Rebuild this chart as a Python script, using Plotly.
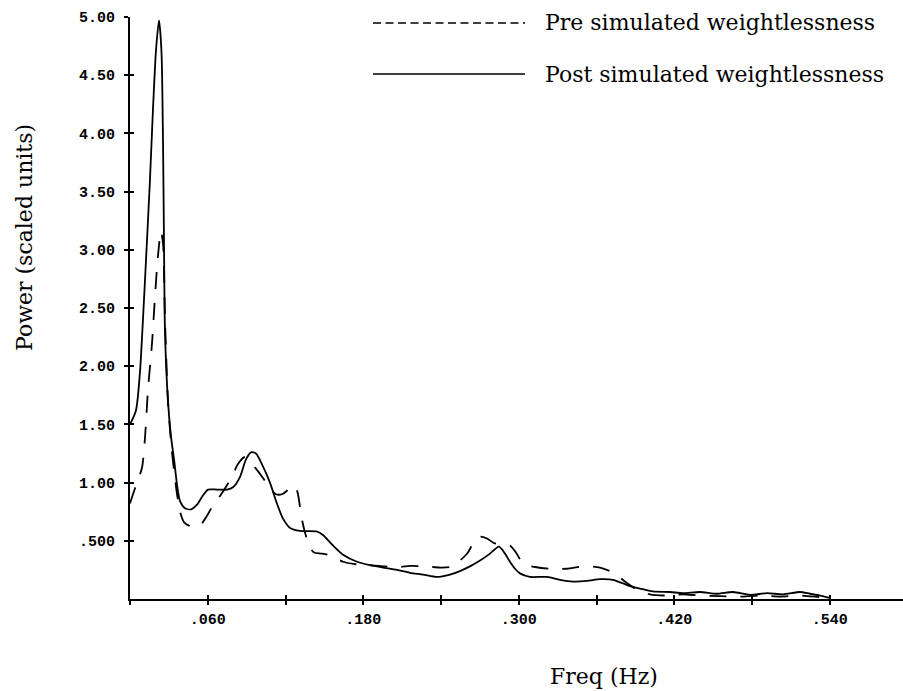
import plotly.graph_objects as go

# Power spectra, frequency in Hz, power in scaled units
post_freq = [0.0000, 0.0046, 0.0077, 0.0100, 0.0123, 0.0154, 0.0177, 0.0201, 0.0224, 0.0243,
             0.0255, 0.0262, 0.0270, 0.0293, 0.0316, 0.0340, 0.0363, 0.0386, 0.0424, 0.0471,
             0.0517, 0.0563, 0.0602, 0.0671, 0.0748, 0.0795, 0.0849, 0.0895, 0.0934, 0.0972,
             0.1026, 0.1080, 0.1134, 0.1181, 0.1235, 0.1312, 0.1443, 0.1489, 0.1566, 0.1644,
             0.1752, 0.1852, 0.1952, 0.2060, 0.2160, 0.2261, 0.2369, 0.2469, 0.2546, 0.2623,
             0.2701, 0.2778, 0.2847, 0.2894, 0.2932, 0.2971, 0.3009, 0.3086, 0.3218, 0.3318,
             0.3418, 0.3526, 0.3627, 0.3727, 0.3835, 0.3935, 0.4035, 0.4167, 0.4267, 0.4398,
             0.4529, 0.4653, 0.4784, 0.4915, 0.5039, 0.5170, 0.5247, 0.5324, 0.5401]
post_power = [1.50, 1.62, 1.95, 2.40, 2.90, 3.60, 4.20, 4.72, 4.97, 4.70,
              3.90, 3.10, 2.30, 1.70, 1.40, 1.20, 0.98, 0.84, 0.78, 0.77,
              0.81, 0.89, 0.94, 0.94, 0.94, 0.96, 1.05, 1.20, 1.26, 1.25,
              1.14, 1.00, 0.82, 0.69, 0.61, 0.585, 0.58, 0.55, 0.46, 0.38,
              0.32, 0.29, 0.27, 0.25, 0.225, 0.21, 0.19, 0.21, 0.24, 0.28,
              0.33, 0.39, 0.45, 0.39, 0.32, 0.26, 0.22, 0.19, 0.19, 0.165,
              0.15, 0.155, 0.17, 0.165, 0.12, 0.09, 0.065, 0.06, 0.05, 0.06,
              0.045, 0.06, 0.035, 0.05, 0.04, 0.06, 0.045, 0.03, 0.01]

pre_freq = [0.0000, 0.0023, 0.0054, 0.0093, 0.0116, 0.0139, 0.0170, 0.0193, 0.0216, 0.0239,
            0.0255, 0.0270, 0.0293, 0.0316, 0.0340, 0.0363, 0.0386, 0.0417, 0.0455, 0.0502,
            0.0548, 0.0586, 0.0633, 0.0710, 0.0787, 0.0833, 0.0887, 0.0926, 0.0972, 0.1026,
            0.1080, 0.1127, 0.1173, 0.1211, 0.1250, 0.1289, 0.1312, 0.1335, 0.1366, 0.1389,
            0.1420, 0.1481, 0.1559, 0.1644, 0.1736, 0.1852, 0.1968, 0.2083, 0.2160, 0.2276,
            0.2407, 0.2485, 0.2546, 0.2608, 0.2654, 0.2701, 0.2755, 0.2809, 0.2878, 0.2932,
            0.2978, 0.3017, 0.3063, 0.3125, 0.3241, 0.3372, 0.3495, 0.3627, 0.3742, 0.3819,
            0.3897, 0.4012, 0.4144, 0.4267, 0.4398, 0.4552, 0.4707, 0.4861, 0.5015, 0.5170,
            0.5285, 0.5401]
pre_power = [0.82, 0.90, 1.00, 1.13, 1.39, 1.80, 2.20, 2.60, 2.95, 3.16,
             3.05, 2.40, 1.70, 1.35, 1.10, 0.90, 0.75, 0.66, 0.63, 0.615,
             0.64, 0.70, 0.79, 0.91, 1.05, 1.16, 1.22, 1.18, 1.12, 1.04,
             0.95, 0.90, 0.90, 0.93, 0.98, 0.93, 0.79, 0.64, 0.51, 0.44,
             0.40, 0.39, 0.37, 0.32, 0.30, 0.29, 0.28, 0.275, 0.285, 0.28,
             0.27, 0.28, 0.33, 0.40, 0.49, 0.535, 0.52, 0.48, 0.47, 0.46,
             0.40, 0.33, 0.29, 0.275, 0.26, 0.26, 0.28, 0.27, 0.22, 0.15,
             0.09, 0.04, 0.03, 0.04, 0.03, 0.025, 0.02, 0.03, 0.02, 0.03,
             0.02, 0.005]

y_tickvals = [0.5, 1.0, 1.5, 2.0, 2.5, 3.0, 3.5, 4.0, 4.5, 5.0]
y_ticktext = [".500", "1.00", "1.50", "2.00", "2.50", "3.00", "3.50", "4.00", "4.50", "5.00"]
x_tickvals = [0.0, 0.06, 0.12, 0.18, 0.24, 0.30, 0.36, 0.42, 0.48, 0.54]
x_ticktext = ["", ".060", "", ".180", "", ".300", "", ".420", "", ".540"]

series_names = ["Pre simulated weightlessness", "Post simulated weightlessness"]
x_title = "Freq (Hz)"
y_title = "Power (scaled units)"

# Page geometry
W, H = 903, 691
ML, MR, MT, MB = 130, 0, 17, 92
PW, PH = W - ML - MR, H - MT - MB
X_RANGE = [0, 0.5965]
Y_RANGE = [0, 5.0]


def px_x(px):
    return (px - ML) / PW


def px_y(py):
    return (H - MB - py) / PH


serif = "DejaVu Serif"
mono = dict(family="Liberation Mono", size=15, color="black", weight="bold")

fig = go.Figure()
fig.add_trace(go.Scatter(
    x=pre_freq, y=pre_power, mode="lines", name=series_names[0], showlegend=False,
    line=dict(color="black", width=1.8, dash="17px,14px", shape="spline", smoothing=0.7),
))
fig.add_trace(go.Scatter(
    x=post_freq, y=post_power, mode="lines", name=series_names[1], showlegend=False,
    line=dict(color="black", width=1.8, shape="spline", smoothing=0.7),
))
# empty trace so the companion axes (inner half of each tick) are drawn
fig.add_trace(go.Scatter(x=[], y=[], xaxis="x2", yaxis="y2", showlegend=False))

axis_common = dict(showgrid=False, zeroline=False, tickcolor="black", tickwidth=1.6, ticklen=4)

fig.update_layout(
    width=W, height=H,
    margin=dict(l=ML, r=MR, t=MT, b=MB, pad=0),
    paper_bgcolor="white", plot_bgcolor="white",
    showlegend=False,
    xaxis=dict(range=X_RANGE, tickmode="array", tickvals=x_tickvals, ticktext=x_ticktext,
               ticks="outside", showline=True, linecolor="black", linewidth=2,
               tickfont=mono, ticklabelstandoff=1, **axis_common),
    yaxis=dict(range=Y_RANGE, tickmode="array", tickvals=y_tickvals, ticktext=y_ticktext,
               ticks="outside", showline=True, linecolor="black", linewidth=2,
               tickfont=mono, ticklabelstandoff=6, **axis_common),
    xaxis2=dict(overlaying="x", matches="x", anchor="y", side="bottom", tickmode="array",
                tickvals=x_tickvals, ticks="inside", showticklabels=False, showline=False,
                **axis_common),
    yaxis2=dict(overlaying="y", matches="y", anchor="x", side="left", tickmode="array",
                tickvals=y_tickvals, ticks="inside", showticklabels=False, showline=False,
                **axis_common),
)

# Axis titles
fig.add_annotation(text=y_title, xref="paper", yref="paper", x=px_x(24), y=px_y(238),
                   textangle=-90, showarrow=False, xanchor="center", yanchor="middle",
                   font=dict(family=serif, size=22, color="black"))
fig.add_annotation(text=x_title, xref="paper", yref="paper", x=px_x(604), y=px_y(676),
                   showarrow=False, xanchor="center", yanchor="middle",
                   font=dict(family=serif, size=22, color="black"))

# Key: long sample lines with labels
key_rows = [(series_names[0], 23, "8px,4.5px"), (series_names[1], 74, "solid")]
for label, ky, dash in key_rows:
    fig.add_shape(type="line", xref="paper", yref="paper",
                  x0=px_x(373), x1=px_x(525), y0=px_y(ky), y1=px_y(ky),
                  line=dict(color="black", width=1.6, dash=dash))
    fig.add_annotation(text=label, xref="paper", yref="paper", x=px_x(543), y=px_y(ky),
                       showarrow=False, xanchor="left", yanchor="middle",
                       font=dict(family=serif, size=22, color="black"))

fig.write_html("out.html")
